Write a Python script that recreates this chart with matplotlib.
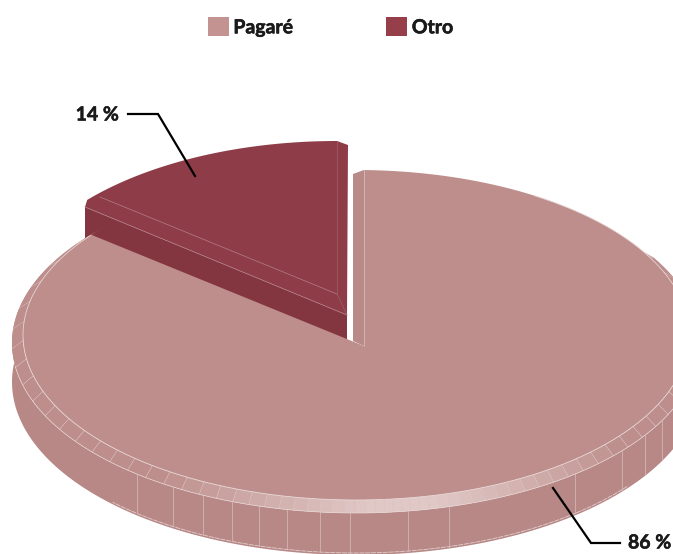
import numpy as np
import matplotlib
matplotlib.use('Agg')
import matplotlib.pyplot as plt
import matplotlib.patheffects as pe
from matplotlib.patches import Patch

categories = ['Pagaré', 'Otro']
shares = [86, 14]
share_labels = ['86 %', '14 %']
legend_colors = ['#C39391', '#963F4B']

plt.rcParams['font.family'] = ['Lato', 'DejaVu Sans']

fig = plt.figure(figsize=(6.73, 5.54), dpi=100)
ax = fig.add_axes([0, 0, 1, 1])
ax.set_xlim(0, 673)
ax.set_ylim(554, 0)
ax.axis('off')

# angles are measured clockwise from the top of the ellipse
big_end = 360 * shares[0] / sum(shares)


def arc(cx, cy, a, b, t0, t1, n=300):
    t = np.radians(np.linspace(t0, t1, n))
    return cx + a * np.sin(t), cy - b * np.cos(t)


def mix(c1, c2, f):
    c1 = np.array(matplotlib.colors.to_rgb(c1))
    c2 = np.array(matplotlib.colors.to_rgb(c2))
    return tuple(c1 + (c2 - c1) * f)


# small slice, drawn first because the big one overlaps it
sx, sy = arc(337, 311, 330, 170, big_end + 1.2, 360)
top_x = [347, 85] + list(sx) + [348]
top_y = [315, 207] + list(sy) + [145]
ax.fill(top_x, top_y, color='#8E3D48', lw=0)
ax.fill([85, 347, 347, 85], [207, 315, 345, 240], color='#83363F', lw=0)
ax.plot([85, 347], [207, 315], color='#B57F86', lw=0.5)
ax.plot([100, 337], [197, 294], color='#B57F86', lw=0.5)
ax.plot([337, 337], [141, 294], color='#A25E68', lw=0.5)
ax.plot([337, 347], [294, 315], color='#A25E68', lw=0.5)

# big slice
cx, cy, a, b = 356, 343, 344, 170
ix, iy, ia, ib = 356, 335, 333, 165
depth = 39
side_b = 173
apex = (364, 346)

ox, oy = arc(cx, cy, a, b, 60, big_end)
bx, by = arc(cx, cy, a, side_b, 60, big_end)
ax.fill(list(ox) + list(bx[::-1]), list(oy) + list(by[::-1] + depth), color='#B78886', lw=0)

# second rim along the bottom of the side
rx, ry = arc(cx, cy, a, side_b, 128, 225)
ax.plot(rx, ry + depth - 2, color='#E3D0CE', lw=0.6, ls=(0, (6, 1)))

# vertical seams on the side
seam_x = [137, 173, 203, 232, 259, 287, 320, 350, 408, 449, 575, 622, 645, 662]
for x in seam_x:
    y = cy + b * np.sqrt(1 - ((x - cx) / a) ** 2)
    y2 = cy + side_b * np.sqrt(1 - ((x - cx) / a) ** 2) + depth
    ax.plot([x, x], [y, y2 - 2], color='#D3B6B4', lw=0.6)

# bevel, split in small pieces so the light can run along the bottom
edges = [60.0]
while edges[-1] < big_end:
    t = edges[-1]
    edges.append(t + 1.4 + 0.055 * abs(t - 172))
edges[-1] = big_end
for t0, t1 in zip(edges[:-1], edges[1:]):
    mid = (t0 + t1) / 2
    light = np.clip(1.15 - abs(mid - 172) / 38, 0, 1)
    px, py = arc(cx, cy, a, b, t0, t1, 12)
    qx, qy = arc(ix, iy, ia, ib, t1, t0, 12)
    ax.fill(list(px) + list(qx), list(py) + list(qy), color=mix('#BD8E8B', '#E0C8C6', light), lw=0)
    ax.plot([px[0], qx[-1]], [py[0], qy[-1]], color='#D6BAB8', lw=0.4)

# top face, cut off along the slice edge
fx, fy = arc(cx, cy, a, b, big_end, big_end, 1)
slope = (apex[1] - fy[0]) / (apex[0] - fx[0])
tx, ty = arc(ix, iy, ia, ib, 1.4, big_end, 600)
keep = ty >= fy[0] + slope * (tx - fx[0])
keep[tx > apex[0]] = True
ax.fill([apex[0]] + list(tx[keep]) + [fx[0]], [apex[1]] + list(ty[keep]) + [fy[0]], color='#BD8E8B', lw=0)
ax.plot(tx[keep & (tx < 690)][60:], ty[keep & (tx < 690)][60:], color='#E6D6D5', lw=0.6)
ex, ey = arc(cx, cy, a, b, 100, 262)
ax.plot(ex, ey, color='#E6D6D5', lw=0.5)

# face of the cut next to the gap
ax.fill([353, 364, 364, 353], [174, 170, 346, 341], color='#B98A88', lw=0)
ax.plot([364, 364], [170, 346], color='#D8C0BE', lw=0.5)

# leader lines and labels
bold = [pe.withStroke(linewidth=0.4, foreground='#1A1A1A')]
ax.plot([128, 158, 195], [114, 114, 176], color='black', lw=1.6, solid_joinstyle='miter')
ax.plot([553, 591, 620], [488, 543, 543], color='black', lw=1.6, solid_joinstyle='miter')
ax.text(119, 115, share_labels[1], ha='right', va='center', fontsize=14, fontweight='bold', color='#1A1A1A',
        path_effects=bold)
ax.text(628, 543, share_labels[0], ha='left', va='center', fontsize=14, fontweight='bold', color='#1A1A1A',
        path_effects=bold)

handles = [Patch(color=c, lw=0) for c in legend_colors]
leg = fig.legend(handles, categories, loc='upper left', bbox_to_anchor=(190 / 673, 1 - 0 / 554), ncol=2, frameon=False,
                 prop={'size': 14, 'weight': 'bold'}, labelcolor='#1A1A1A', handlelength=1.08, handleheight=1.08,
                 handletextpad=0.25, columnspacing=4.75)
for text in leg.get_texts():
    text.set_path_effects(bold)

fig.savefig('out.png', dpi=100)
